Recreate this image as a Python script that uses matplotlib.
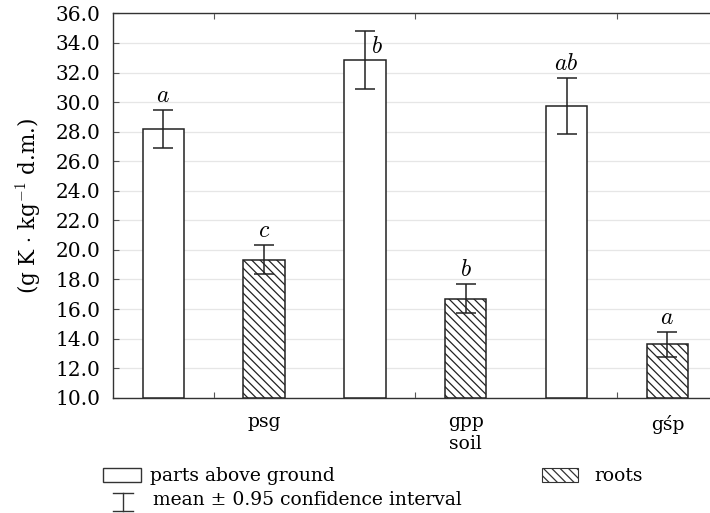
import matplotlib.pyplot as plt
import matplotlib.patches as mpatches
from matplotlib.lines import Line2D
import numpy as np

plt.rcParams['font.family'] = ['DejaVu Serif']
plt.rcParams['mathtext.fontset'] = 'cm'
plt.rcParams['hatch.linewidth'] = 0.9

# data: white = parts above ground, hatched = roots
groups = ['psg', 'gpp', 'gśp']
above_mean = [28.2, 32.85, 29.75]
above_ci = [1.28, 1.97, 1.89]
roots_mean = [19.35, 16.7, 13.6]
roots_ci = [1.0, 0.98, 0.83]
above_letters = ['a', 'b', 'ab']
roots_letters = ['c', 'b', 'a']
yticks = np.arange(10, 36.1, 2)

fig = plt.figure(figsize=(7.10, 5.13), dpi=100)
ax = fig.add_axes([0.159, 0.2248, 0.852, 0.749])

x_above = np.arange(len(groups)) * 2
x_roots = x_above + 1
w = 0.41

ax.bar(x_above, np.array(above_mean) - 10, w, bottom=10, color='white',
       edgecolor='#222222', linewidth=1.1, zorder=3)
ax.bar(x_roots, np.array(roots_mean) - 10, w, bottom=10, color='white',
       edgecolor='#222222', linewidth=1.1, hatch='\\\\\\\\', zorder=3)
ax.errorbar(x_above, above_mean, yerr=above_ci, fmt='none', ecolor='#222222',
            elinewidth=1.1, capsize=7, capthick=1.1, zorder=4)
ax.errorbar(x_roots, roots_mean, yerr=roots_ci, fmt='none', ecolor='#222222',
            elinewidth=1.1, capsize=7, capthick=1.1, zorder=4)

# significance letters
for i in range(len(groups)):
    top = above_mean[i] + above_ci[i]
    if i == 1:
        ax.text(x_above[i] + 0.06, top - 0.25, '$' + above_letters[i] + '$',
                ha='left', va='top', fontsize=17, zorder=5)
    else:
        ax.annotate('$' + above_letters[i] + '$', (x_above[i], top),
                    xytext=(0, 2), textcoords='offset points',
                    ha='center', va='bottom', fontsize=17, zorder=5)
    ax.annotate('$' + roots_letters[i] + '$', (x_roots[i], roots_mean[i] + roots_ci[i]),
                xytext=(0, 2), textcoords='offset points',
                ha='center', va='bottom', fontsize=17, zorder=5)

ax.set_xlim(-0.5, 5.5)
ax.set_ylim(10, 36)
ax.set_yticks(yticks)
ax.set_yticklabels([f'{v:.1f}' for v in yticks], fontsize=14.5)
ax.yaxis.grid(True, color='#e6e6e6', linewidth=0.9, zorder=0)
ax.set_axisbelow(True)
ax.tick_params(axis='y', direction='in', length=4, width=0.8, color='#555555', pad=9)

ax.set_xticks([0.5, 2.5, 4.5])
ax.set_xticklabels([])
ax.tick_params(axis='x', direction='in', length=4, width=0.8, color='#555555',
               top=True, bottom=True)
for i, g in enumerate(groups):
    dy = -0.006 if g == 'gśp' else 0
    ax.text(x_roots[i], -0.04 + dy, g, transform=ax.get_xaxis_transform(),
            ha='center', va='top', fontsize=13.5)
ax.text(x_roots[1], -0.097, 'soil', transform=ax.get_xaxis_transform(),
        ha='center', va='top', fontsize=13.5)

for s in ['left', 'bottom', 'top']:
    ax.spines[s].set_linewidth(1.0)
    ax.spines[s].set_color('#333333')
ax.spines['right'].set_visible(False)

ax.set_ylabel('(g K $\\cdot$ kg$^{-1}$ d.m.)', fontsize=15.5, labelpad=9)

# legend drawn below the axes
fig.patches.append(mpatches.Rectangle((103 / 710, 1 - 482 / 513), 38 / 710, 14 / 513,
                                      transform=fig.transFigure, facecolor='white',
                                      edgecolor='#333333', linewidth=1.0))
fig.patches.append(mpatches.Rectangle((542 / 710, 1 - 482 / 513), 36 / 710, 14 / 513,
                                      transform=fig.transFigure, facecolor='white',
                                      edgecolor='#333333', linewidth=0.8, hatch='\\\\\\\\'))
fig.text(150 / 710, 1 - 476 / 513, 'parts above ground', ha='left', va='center', fontsize=13.5)
fig.text(594 / 710, 1 - 476 / 513, 'roots', ha='left', va='center', fontsize=13.5)
ex = 123 / 710
fig.lines.append(Line2D([ex, ex], [1 - 493 / 513, 1 - 511 / 513], transform=fig.transFigure,
                        color='#333333', linewidth=1.0))
for yy in [493, 511]:
    fig.lines.append(Line2D([ex - 10 / 710, ex + 10 / 710], [1 - yy / 513, 1 - yy / 513],
                            transform=fig.transFigure, color='#333333', linewidth=1.0))
fig.text(153 / 710, 1 - 500 / 513, 'mean ± 0.95 confidence interval', ha='left', va='center',
         fontsize=13.5)

fig.savefig('out.png', dpi=100)
